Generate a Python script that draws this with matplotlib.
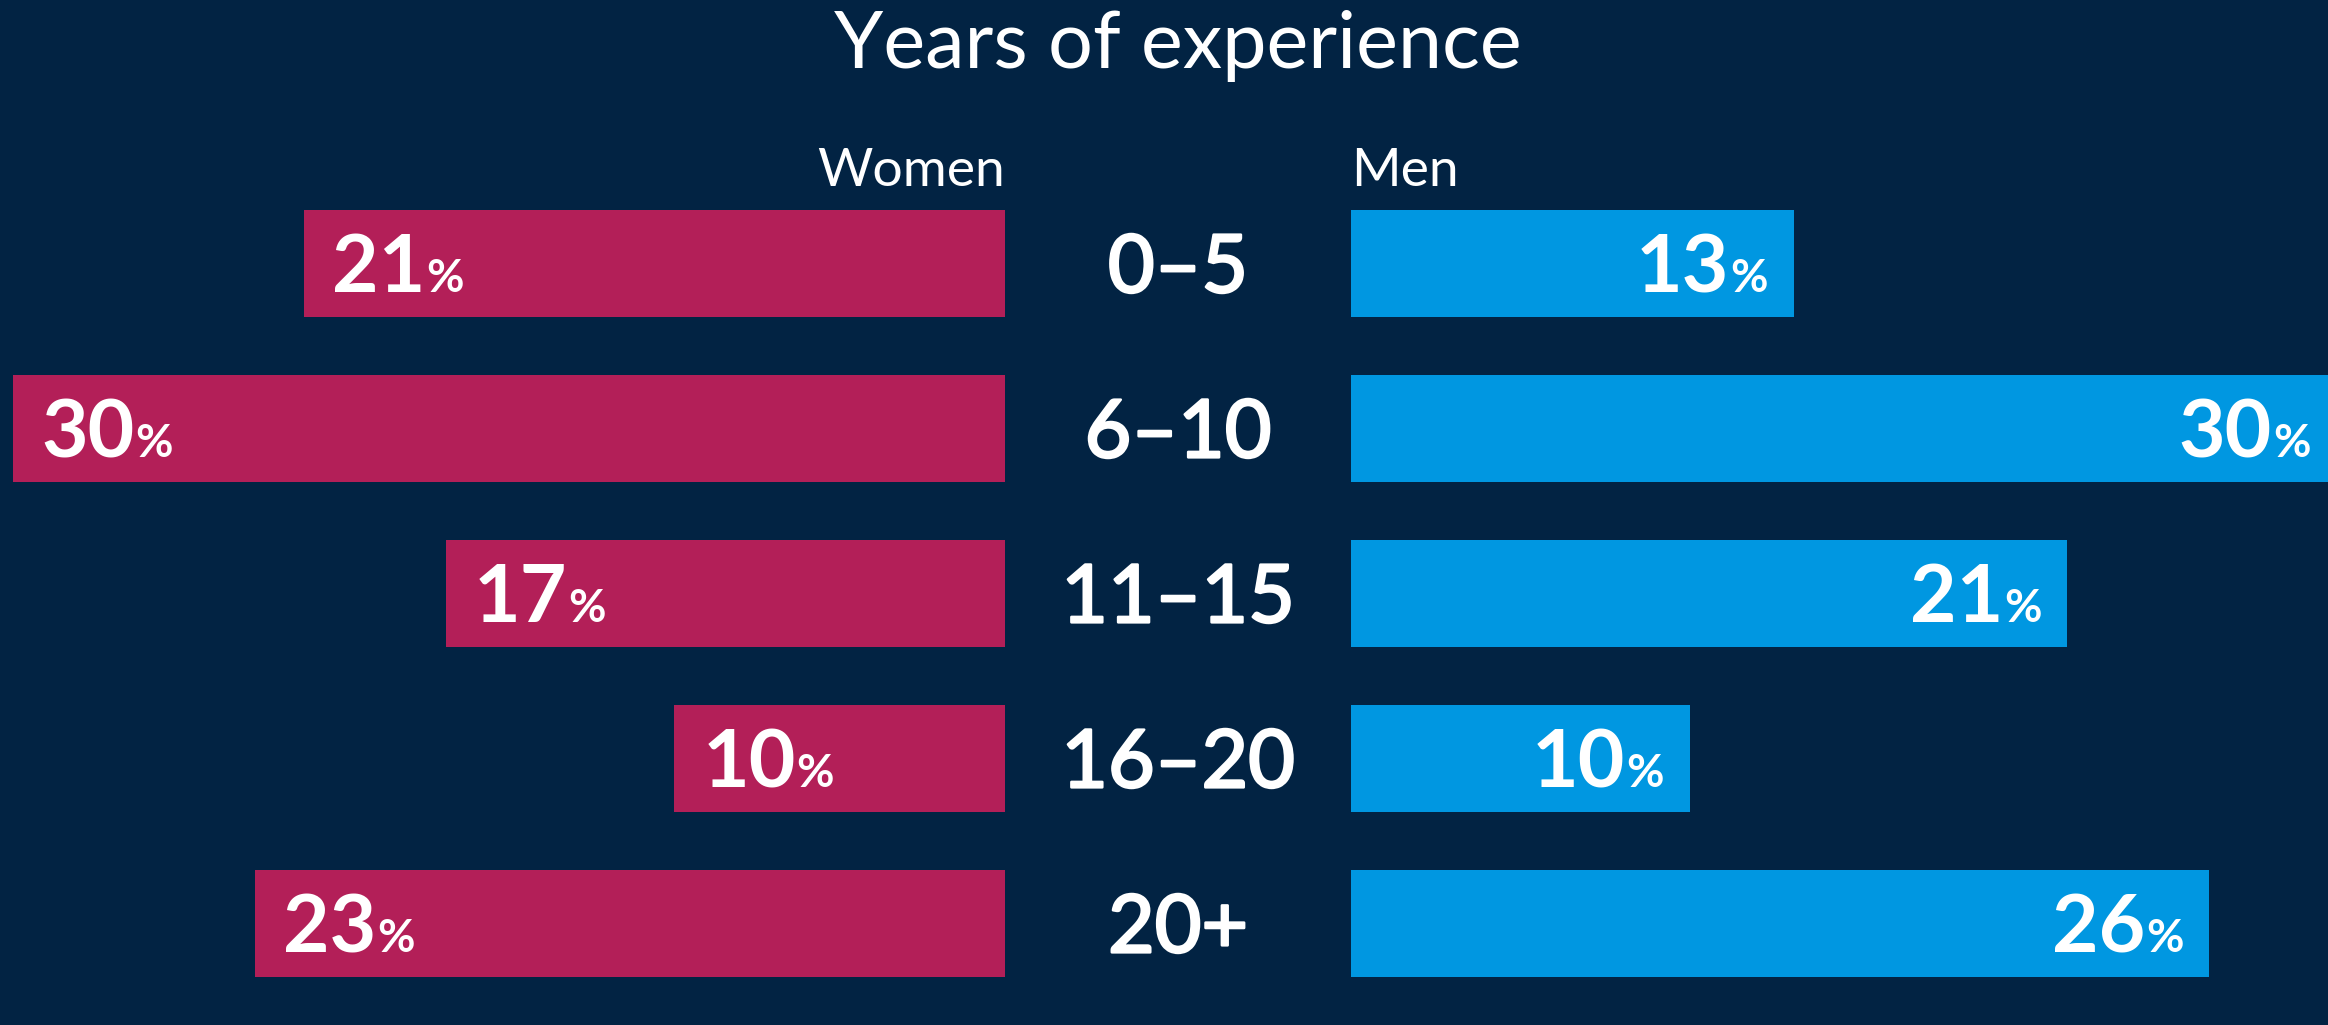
import matplotlib
matplotlib.use("Agg")
import matplotlib.pyplot as plt
import matplotlib.patheffects as pe
from matplotlib.transforms import offset_copy, blended_transform_factory, IdentityTransform

# data (bar lengths; labels are the rounded values)
CATEGORIES = ["0–5", "6–10", "11–15", "16–20", "20+"]
WOMEN = [21.0, 29.7, 16.75, 9.9, 22.45]
MEN = [13.25, 29.5, 21.45, 10.15, 25.7]
WOMEN_LABELS = ["21", "30", "17", "10", "23"]
MEN_LABELS = ["13", "30", "21", "10", "26"]

BG = "#022343"
WOMEN_COLOR = "#B31F58"
MEN_COLOR = "#0097E1"
FONT = "Lato"

W, H, DPI = 2328, 1025, 100
PX_PER_PCT = 33.4
WOMEN_BASE = 1005   # px, where women's bars end (right side)
MEN_BASE = 1351     # px, where men's bars start
CENTER_X = 1178
ROW_PITCH = 165
FIRST_ROW = 263.5   # px from top, centre of first bar
BAR_H = 107
CAP = 0.7165        # Lato cap height / em

NUM_FS, PCT_FS = 58, 33
CAT_FS = 58

fig = plt.figure(figsize=(W / DPI, H / DPI), dpi=DPI, facecolor=BG)
top_px = FIRST_ROW - ROW_PITCH / 2
ax_h = ROW_PITCH * len(CATEGORIES)
bottom = (H - top_px - ax_h) / H
ax_w = fig.add_axes([0, bottom, WOMEN_BASE / W, ax_h / H])
ax_m = fig.add_axes([MEN_BASE / W, bottom, (W - MEN_BASE) / W, ax_h / H])
ax_w.set_xlim(WOMEN_BASE / PX_PER_PCT, 0)
ax_m.set_xlim(0, (W - MEN_BASE) / PX_PER_PCT)

rows = list(range(len(CATEGORIES)))
ax_w.barh(rows, WOMEN, height=BAR_H / ROW_PITCH, color=WOMEN_COLOR)
ax_m.barh(rows, MEN, height=BAR_H / ROW_PITCH, color=MEN_COLOR)
for ax in (ax_w, ax_m):
    ax.set_ylim(len(CATEGORIES) - 0.5, -0.5)
    ax.axis("off")

# half the cap height, in pixels, to sit text baselines on the bar centre
half_cap = CAP * NUM_FS * DPI / 72 / 2
txt = dict(color="white", family=FONT, va="baseline")

women_nums, men_pcts = [], []
for i in rows:
    tr = offset_copy(ax_w.transData, fig=fig, x=28, y=-half_cap, units="dots")
    women_nums.append(ax_w.text(WOMEN[i], i, WOMEN_LABELS[i], transform=tr, ha="left",
                                fontsize=NUM_FS, fontweight="bold", **txt))
    tr = offset_copy(ax_m.transData, fig=fig, x=-26, y=-half_cap, units="dots")
    men_pcts.append(ax_m.text(MEN[i], i, "%", transform=tr, ha="right",
                              fontsize=PCT_FS, fontweight="bold", **txt))

# place the second part of each label next to the first one
fig.canvas.draw()
renderer = fig.canvas.get_renderer()
for i in rows:
    t = women_nums[i]
    bb = t.get_window_extent(renderer)
    y = t.get_transform().transform((WOMEN[i], i))[1]
    fig.text(bb.x1 + 1, y, "%", transform=IdentityTransform(), ha="left",
             fontsize=PCT_FS, fontweight="bold", **txt)
    t = men_pcts[i]
    bb = t.get_window_extent(renderer)
    y = t.get_transform().transform((MEN[i], i))[1]
    fig.text(bb.x0 - 1, y, MEN_LABELS[i], transform=IdentityTransform(), ha="right",
             fontsize=NUM_FS, fontweight="bold", **txt)

# category labels in the middle (a thin stroke to get a medium weight)
cat_half_cap = CAP * CAT_FS * DPI / 72 / 2
cat_tr = offset_copy(blended_transform_factory(fig.transFigure, ax_w.transData),
                     fig=fig, y=-cat_half_cap, units="dots")
for i, c in enumerate(CATEGORIES):
    fig.text(CENTER_X / W, i, c, transform=cat_tr, ha="center", fontsize=CAT_FS,
             path_effects=[pe.withStroke(linewidth=1.8, foreground="white")], **txt)

fig.text(CENTER_X / W, 1 - 68 / H, "Years of experience", ha="center",
         fontsize=57, **txt)
fig.text(WOMEN_BASE / W, 1 - 186 / H, "Women", ha="right", fontsize=38.5, **txt)
fig.text(MEN_BASE / W, 1 - 186 / H, "Men", ha="left", fontsize=38.5, **txt)

fig.savefig("out.png", dpi=DPI, facecolor=BG)
